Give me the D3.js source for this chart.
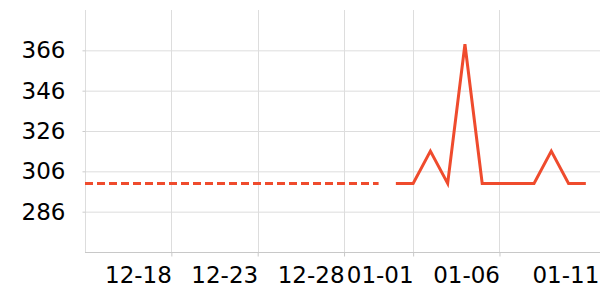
<!DOCTYPE html>
<html>
<head>
<meta charset="utf-8">
<script src="https://cdn.jsdelivr.net/npm/d3@7"></script>
<style>
body{margin:0;background:#fff;}
svg{display:block;}
</style>
</head>
<body>
<div class="chart"></div>
<script>
// values, one per day
var pastDates = ["2019-12-13","2019-12-14","2019-12-15","2019-12-16","2019-12-17","2019-12-18","2019-12-19","2019-12-20","2019-12-21","2019-12-22","2019-12-23","2019-12-24","2019-12-25","2019-12-26","2019-12-27","2019-12-28","2019-12-29","2019-12-30"];
var pastValues = [300,300,300,300,300,300,300,300,300,300,300,300,300,300,300,300,300,300];
var recentDates = ["2019-12-31","2020-01-01","2020-01-02","2020-01-03","2020-01-04","2020-01-05","2020-01-06","2020-01-07","2020-01-08","2020-01-09","2020-01-10","2020-01-11"];
var recentValues = [300,300,316,300,369,300,300,300,300,316,300,300];
var yTicks = [286,306,326,346,366];
var xTicks = ["2019-12-18","2019-12-23","2019-12-28","2020-01-01","2020-01-06","2020-01-11"];

var W = 600, H = 300;
var m = {top:10, left:85, bottom:48};
var parse = d3.timeParse("%Y-%m-%d");
var fmt = d3.timeFormat("%m-%d");
var lastTick = xTicks.length - 1;

var svg = d3.select(".chart").append("svg")
    .attr("width", W)
    .attr("height", H)

var x = d3.scaleTime()
    .domain([parse("2019-12-13"), parse("2020-01-12")])
    .range([m.left, m.left + 30*17.27]);
var y = d3.scaleLinear()
    .domain([266, 386])
    .range([H - m.bottom, m.top]);

// horizontal grid
svg.append("g")
    .selectAll("line").data(yTicks).enter().append("line")
    .attr("x1", m.left).attr("x2", W)
    .attr("y1", function(d){return y(d)+0.5}).attr("y2", function(d){return y(d)+0.5})
    .style("stroke", "#dddddd");

// vertical grid (the last label is pushed to the edge, no grid line for it)
svg.append("g")
    .selectAll("line").data(xTicks.slice(0, lastTick).map(parse)).enter().append("line")
    .attr("x1", function(d){return Math.round(x(d))+0.5}).attr("x2", function(d){return Math.round(x(d))+0.5})
    .attr("y1", m.top).attr("y2", H - m.bottom)
    .style("stroke", "#dddddd");

// left axis
var yAxis = svg.append("g")
    .attr("transform", "translate(" + (m.left+0.5) + ",0)")
    .call(d3.axisLeft(y).tickValues(yTicks).tickSize(3).tickPadding(17));
yAxis.attr("font-family", "DejaVu Sans").attr("font-size", 23);
yAxis.select(".domain").attr("d", "M0," + m.top + "V" + (H-m.bottom)).style("stroke", "#dddddd");
yAxis.selectAll(".tick line").style("stroke", "#cccccc");
yAxis.selectAll("text").style("fill", "#000");

// bottom axis
var xAxis = svg.append("g")
    .attr("transform", "translate(0," + (H-m.bottom+0.5) + ")")
    .call(d3.axisBottom(x).tickValues(xTicks.map(parse)).tickFormat(fmt).tickSize(4).tickPadding(10));
xAxis.attr("font-family", "DejaVu Sans").attr("font-size", 23);
xAxis.select(".domain").attr("d", "M" + m.left + ",0H" + W).style("stroke", "#c8c8c8");
xAxis.selectAll(".tick line").style("stroke", "#c8c8c8");
xAxis.selectAll("text").style("fill", "#000")
    .attr("text-anchor", "end");
xAxis.selectAll(".tick").filter(function(d,i){return i == lastTick})
    .call(function(t){
        t.select("line").remove();
        t.select("text").attr("dx", 13);
    });

var line = d3.line()
    .x(function(d){return x(d[0])})
    .y(function(d){return y(d[1])});

svg.append("path")
    .datum(pastDates.map(function(d,i){return [parse(d), pastValues[i]]}))
    .attr("d", line)
    .style("fill", "none")
    .style("stroke", "#ef4b2d")
    .style("stroke-width", 3)
    .style("stroke-dasharray", "8,4");

svg.append("path")
    .datum(recentDates.map(function(d,i){return [parse(d), recentValues[i]]}))
    .attr("d", line)
    .style("fill", "none")
    .style("stroke", "#ef4b2d")
    .style("stroke-width", 3);
</script>
</body>
</html>
